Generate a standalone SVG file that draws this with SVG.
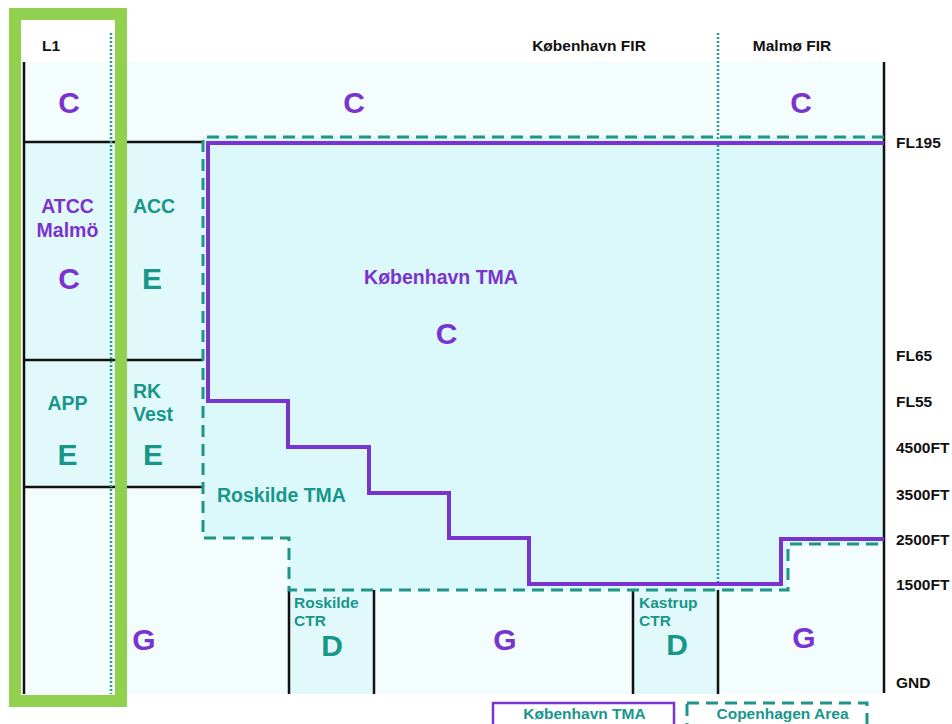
<svg xmlns="http://www.w3.org/2000/svg" width="952" height="724" viewBox="0 0 952 724">
<style>
text{font-family:"Liberation Sans",Arial,sans-serif;font-weight:bold}
.hdr{font-size:15.5px;fill:#111}
.alt{font-size:15.5px;fill:#111}
.pl{fill:#7b33cf}
.tl{fill:#17968a}
.big{font-size:30px;text-anchor:middle}
.lab{font-size:19.5px}
.sm{font-size:15.5px}
.blk{stroke:#111;stroke-width:2.5;fill:none}
.dot{stroke:#2e9a90;stroke-width:2.5;stroke-dasharray:2 2;fill:none}
.dash{stroke:#1f9488;stroke-width:3;stroke-dasharray:12 7;fill:none}
.tma{stroke:#7b33cf;stroke-width:4;fill:none}
</style>
<rect x="0" y="0" width="952" height="724" fill="#ffffff"/>
<rect x="24" y="62" width="860" height="632" fill="#f3fdfd"/>
<rect x="24" y="142" width="179" height="345" fill="#e2f9fb"/>
<path d="M203,137 H884 V544 H788 V590 H289 V538 H203 Z" fill="#dbf8fa"/>
<rect x="289" y="590" width="85" height="104" fill="#e2f9fb"/>
<rect x="633" y="590" width="85" height="104" fill="#e2f9fb"/>

<g id="connectors">
<line class="blk" x1="24" y1="62" x2="24" y2="694"/>
<line class="blk" x1="884" y1="62" x2="884" y2="693" stroke-width="3"/>
<line class="blk" x1="24" y1="142" x2="203" y2="142"/>
<line class="blk" x1="24" y1="360" x2="203" y2="360"/>
<line class="blk" x1="24" y1="487" x2="203" y2="487"/>
<line class="blk" x1="289" y1="590" x2="289" y2="694"/>
<line class="blk" x1="374" y1="590" x2="374" y2="694"/>
<line class="blk" x1="633" y1="590" x2="633" y2="694"/>
<line class="blk" x1="718" y1="590" x2="718" y2="694"/>
<line class="dot" x1="111" y1="33" x2="111" y2="694"/>
<line class="dot" x1="718" y1="33" x2="718" y2="582"/>
<path class="dash" d="M884,137 H203 V538 H289 V590 H788 V544 H884"/>
<path class="tma" d="M884,143 H208 V401 H288 V447 H369 V493 H449 V538 H529 V584 H781 V539 H884"/>
</g>

<g id="headers">
<text class="hdr" x="51" y="51" text-anchor="middle">L1</text>
<text class="hdr" x="589" y="51" text-anchor="middle">København FIR</text>
<text class="hdr" x="792" y="51" text-anchor="middle">Malmø FIR</text>
</g>

<g id="upper-c">
<text class="big pl" x="69" y="113">C</text>
<text class="big pl" x="354" y="113">C</text>
<text class="big pl" x="801" y="113">C</text>
</g>

<g id="atcc-malmo">
<text class="lab pl" x="67.5" y="213" text-anchor="middle">ATCC</text>
<text class="lab pl" x="67.5" y="237" text-anchor="middle">Malmö</text>
<text class="big pl" x="69" y="289">C</text>
</g>

<g id="acc">
<text class="lab tl" x="154" y="213" text-anchor="middle">ACC</text>
<text class="big tl" x="152" y="289">E</text>
</g>

<g id="app">
<text class="lab tl" x="67.5" y="410" text-anchor="middle">APP</text>
<text class="big tl" x="67.5" y="465">E</text>
</g>

<g id="rk-vest">
<text class="lab tl" x="133" y="398">RK</text>
<text class="lab tl" x="133" y="421">Vest</text>
<text class="big tl" x="153" y="465">E</text>
</g>

<g id="kobenhavn-tma">
<text class="lab pl" x="441" y="284" text-anchor="middle">København TMA</text>
<text class="big pl" x="446.5" y="344">C</text>
</g>

<g id="roskilde-tma">
<text class="lab tl" x="217" y="502">Roskilde TMA</text>
</g>

<g id="roskilde-ctr">
<text class="sm tl" x="294" y="608">Roskilde</text>
<text class="sm tl" x="294" y="626">CTR</text>
<text class="big tl" x="332" y="656">D</text>
</g>

<g id="kastrup-ctr">
<text class="sm tl" x="639" y="608">Kastrup</text>
<text class="sm tl" x="639" y="626">CTR</text>
<text class="big tl" x="677" y="655">D</text>
</g>

<g id="class-g">
<text class="big pl" x="144" y="650">G</text>
<text class="big pl" x="505" y="650">G</text>
<text class="big pl" x="804" y="648">G</text>
</g>

<g id="levels">
<text class="alt" x="896" y="148">FL195</text>
<text class="alt" x="896" y="361">FL65</text>
<text class="alt" x="896" y="407">FL55</text>
<text class="alt" x="896" y="453">4500FT</text>
<text class="alt" x="896" y="500">3500FT</text>
<text class="alt" x="896" y="545">2500FT</text>
<text class="alt" x="896" y="590">1500FT</text>
<text class="alt" x="896" y="688">GND</text>
</g>

<g id="legend">
<rect x="493" y="703" width="181" height="26" fill="#ffffff" stroke="#7b33cf" stroke-width="2.5"/>
<text class="sm tl" x="584.5" y="719" text-anchor="middle">København TMA</text>
<rect x="687" y="703" width="180" height="26" class="dash" style="fill:#ffffff"/>
<text class="sm tl" x="782.5" y="719" text-anchor="middle">Copenhagen Area</text>
</g>

<g id="l1-frame">
<rect x="15" y="14" width="106" height="687" fill="none" stroke="#92d050" stroke-width="12"/>
</g>
</svg>
